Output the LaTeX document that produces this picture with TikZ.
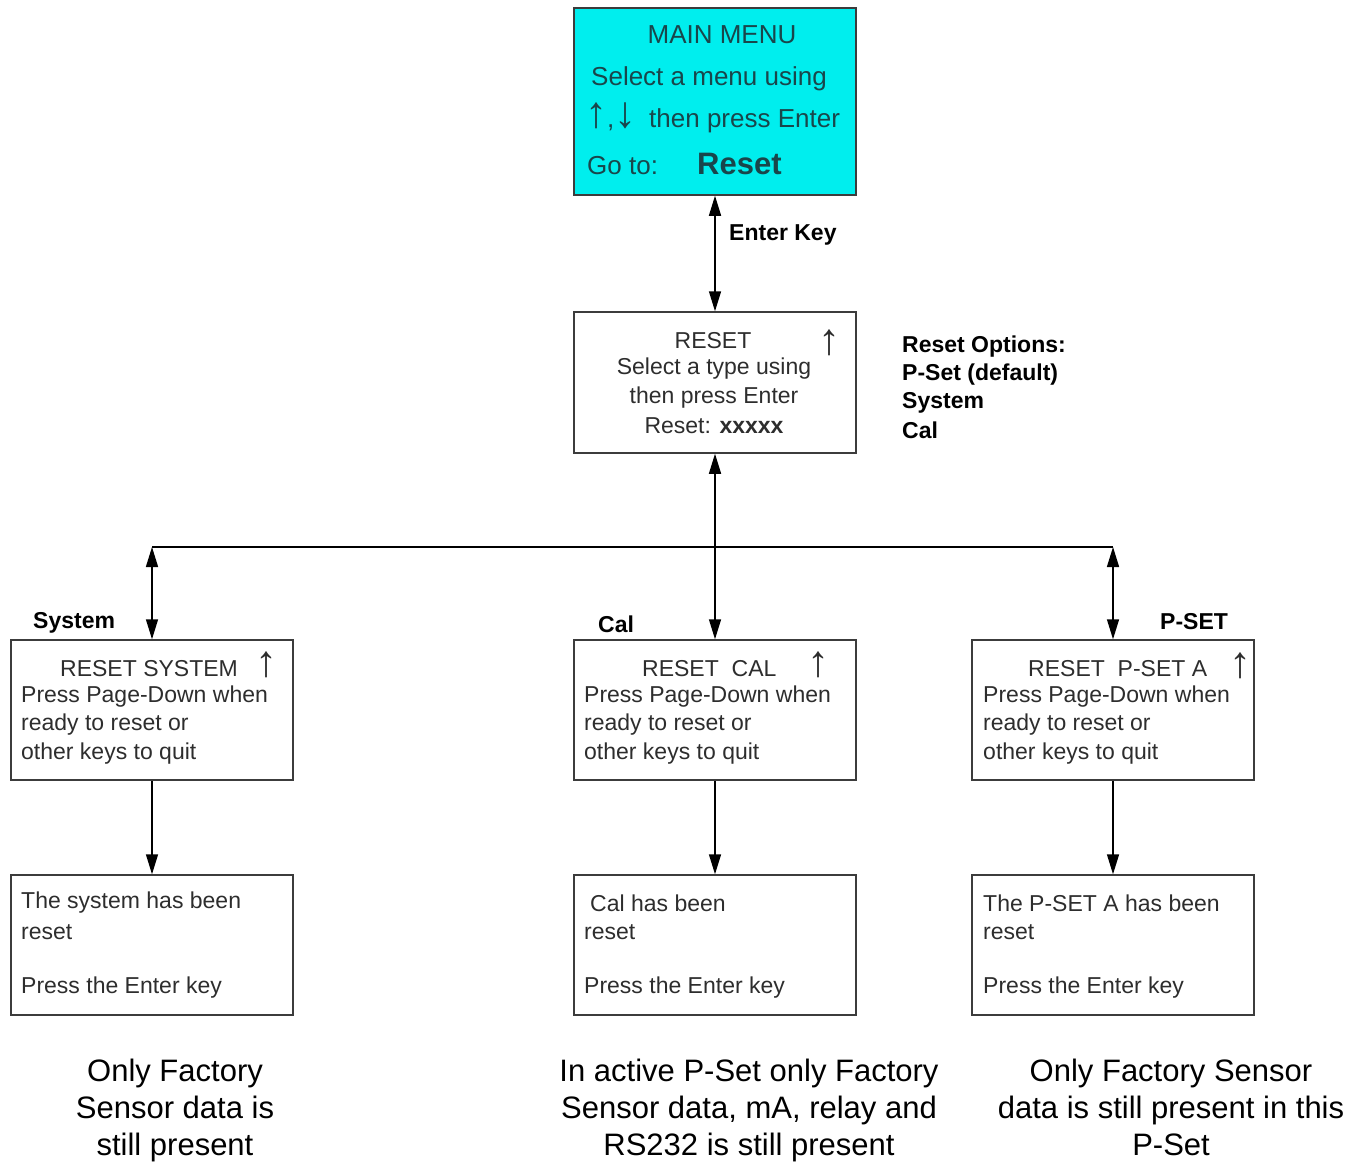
\documentclass[tikz,border=0pt]{standalone}
\usepackage{fontspec}
\setmainfont{Liberation Sans}
\usetikzlibrary{arrows.meta}
\definecolor{boxline}{RGB}{60,60,60}
\definecolor{txtgray}{RGB}{45,45,45}
\definecolor{menucyan}{RGB}{0,238,238}
\definecolor{menutxt}{RGB}{25,70,75}
\newcommand{\bigarr}[1]{{\fontsize{44}{44}\selectfont #1}}
\begin{document}
\begin{tikzpicture}[x=1pt,y=-1pt,
  box/.style={draw=boxline, line width=1.5pt, minimum width=282pt, minimum height=140pt, inner sep=0pt},
  txt/.style={inner sep=0pt, anchor=west, font=\fontsize{23}{28}\selectfont, text=txtgray},
  ctxt/.style={txt, anchor=center},
  uparr/.style={inner sep=0pt, anchor=center, font=\fontsize{44}{44}\selectfont, text=txtgray},
  lbl/.style={inner sep=0pt, anchor=west, font=\fontsize{23}{28}\selectfont\bfseries, text=black},
  mtxt/.style={inner sep=0pt, anchor=west, font=\fontsize{26}{30}\selectfont, text=menutxt},
  note/.style={inner sep=0pt, align=center, font=\fontsize{31}{37}\selectfont, text=black},
  conn/.style={line width=1.5pt, black},
  dbl/.style={conn, {Triangle[length=20pt,width=12pt]}-{Triangle[length=20pt,width=12pt]}},
  sgl/.style={conn, -{Triangle[length=20pt,width=12pt]}}
]
\useasboundingbox (0,0) rectangle (1364,1161);

% boxes
\node[box, fill=menucyan, minimum height=187pt] (main) at (715,101.5) {};
\node[box, minimum height=141pt] (reset) at (715,382.5) {};
\node[box] (sys) at (152,710) {};
\node[box] (cal) at (715,710) {};
\node[box] (pset) at (1113,710) {};
\node[box] (sysd) at (152,945) {};
\node[box] (cald) at (715,945) {};
\node[box] (psetd) at (1113,945) {};

% main menu text
\node[mtxt, anchor=center] (m1) at (722,35) {MAIN MENU};
\node[mtxt] (m2) at (591,79) {Select a menu using};
\node[mtxt, anchor=base west] (m3a) at (585,128) {\bigarr{↑},\bigarr{↓}};
\node[mtxt] (m3b) at (649,121) {then press Enter};
\node[mtxt] (m4a) at (587,166) {Go to:};
\node[mtxt, font=\fontsize{31}{34}\selectfont\bfseries] (m4b) at (697,164) {Reset};

% reset box text
\node[ctxt] (r1) at (713,341) {RESET};
\node[uparr] (r1a) at (829,343) {↑};
\node[ctxt] (r2) at (714,369) {Select a type using};
\node[ctxt] (r3) at (714,398) {then press Enter};
\node[ctxt] (r4) at (714,426) {Reset: \textbf{xxxxx}};

% labels
\node[lbl] (ek) at (729,235) {Enter Key};
\node[lbl] (o1) at (902,347) {Reset Options:};
\node[lbl] (o2) at (902,375) {P-Set (default)};
\node[lbl] (o3) at (902,403) {System};
\node[lbl] (o4) at (902,430) {Cal};
\node[lbl] (lsys) at (33,623) {System};
\node[lbl] (lcal) at (598,624) {Cal};
\node[lbl] (lpset) at (1160,622) {P-SET};

% row 2 text
\node[txt] (s1) at (60,669) {RESET SYSTEM};
\node[uparr] (s1a) at (266,665) {↑};
\node[txt] (s2) at (21,697) {Press Page-Down when};
\node[txt] (s3) at (21,725) {ready to reset or};
\node[txt] (s4) at (21,754) {other keys to quit};

\node[txt] (c1) at (642,669) {RESET\ \ CAL};
\node[uparr] (c1a) at (818,665) {↑};
\node[txt] (c2) at (584,697) {Press Page-Down when};
\node[txt] (c3) at (584,725) {ready to reset or};
\node[txt] (c4) at (584,754) {other keys to quit};

\node[txt] (p1) at (1028,669) {RESET\ \ P-SET A};
\node[uparr] (p1a) at (1240,666) {↑};
\node[txt] (p2) at (983,697) {Press Page-Down when};
\node[txt] (p3) at (983,725) {ready to reset or};
\node[txt] (p4) at (983,754) {other keys to quit};

% row 3 text
\node[txt] (sd1) at (21,903) {The system has been};
\node[txt] (sd2) at (21,932) {reset};
\node[txt] (sd3) at (21,988) {Press the Enter key};

\node[txt] (cd1) at (590,903) {Cal has been};
\node[txt] (cd2) at (584,932) {reset};
\node[txt] (cd3) at (584,988) {Press the Enter key};

\node[txt] (pd1) at (983,903) {The P-SET A has been};
\node[txt] (pd2) at (983,932) {reset};
\node[txt] (pd3) at (983,988) {Press the Enter key};

% notes
\node[note] (n1) at (175,1110) {Only Factory\\Sensor data is\\still present};
\node[note] (n2) at (749,1110) {In active P-Set only Factory\\Sensor data, mA, relay and\\RS232 is still present};
\node[note] (n3) at (1171,1107) {Only Factory Sensor\\data is still present in this\\P-Set};

% connectors
\coordinate (hl) at (152,547);
\coordinate (hr) at (1113,547);
\draw[dbl] (main.south) -- (reset.north);
\draw[dbl] (reset.south) -- (cal.north);
\draw[conn] (hl) -- (hr);
\draw[dbl] (hl) -- (sys.north);
\draw[dbl] (hr) -- (pset.north);
\draw[sgl] (sys.south) -- (sysd.north);
\draw[sgl] (cal.south) -- (cald.north);
\draw[sgl] (pset.south) -- (psetd.north);
\end{tikzpicture}
\end{document}
